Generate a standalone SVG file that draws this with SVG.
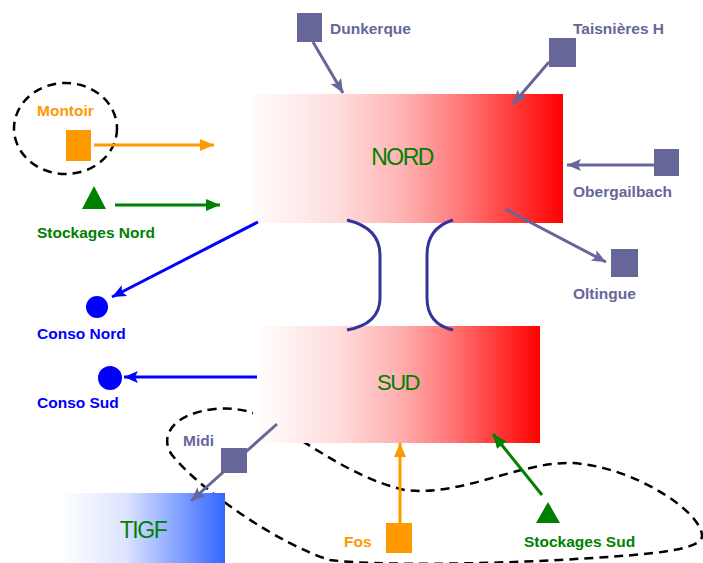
<svg xmlns="http://www.w3.org/2000/svg" width="703" height="563" viewBox="0 0 703 563">
<style>
.lbl{font-family:"Liberation Sans",Arial,sans-serif;font-weight:bold;font-size:15.5px}
.big{font-family:"Liberation Sans",Arial,sans-serif;font-size:23px;fill:#008000;letter-spacing:-1.5px;text-anchor:middle}
.slate{fill:#666699}
.c{fill:none;stroke-width:3}
</style>
<defs>
<linearGradient id="red" x1="0" y1="0" x2="1" y2="0">
<stop offset="0" stop-color="#FFFFFF"/>
<stop offset="0.3" stop-color="#FFDCDC"/>
<stop offset="0.5" stop-color="#FFB2B2"/>
<stop offset="0.7" stop-color="#FF7272"/>
<stop offset="1" stop-color="#FF0000"/>
</linearGradient>
<linearGradient id="blue" x1="0" y1="0" x2="1" y2="0">
<stop offset="0" stop-color="#FFFFFF"/>
<stop offset="0.4" stop-color="#DDE4FF"/>
<stop offset="1" stop-color="#3366FF"/>
</linearGradient>
<marker id="aS" viewBox="0 0 14 12" refX="14" refY="6" markerWidth="15" markerHeight="12" markerUnits="userSpaceOnUse" orient="auto"><path d="M0,0 L14,6 L0,12 L3,6 z" fill="#666699"/></marker>
<marker id="aO" viewBox="0 0 14 12" refX="14" refY="6" markerWidth="15" markerHeight="12" markerUnits="userSpaceOnUse" orient="auto"><path d="M0,0 L14,6 L0,12 z" fill="#FF9900"/></marker>
<marker id="aG" viewBox="0 0 14 12" refX="14" refY="6" markerWidth="15" markerHeight="12" markerUnits="userSpaceOnUse" orient="auto"><path d="M0,0 L14,6 L0,12 z" fill="#008000"/></marker>
<marker id="aB" viewBox="0 0 14 12" refX="14" refY="6" markerWidth="15" markerHeight="12" markerUnits="userSpaceOnUse" orient="auto"><path d="M0,0 L14,6 L0,12 L3,6 z" fill="#0000FF"/></marker>
</defs>

<g id="zone-sud">
<path d="M277,425 C320,452 360,480 405,490 C460,497 520,462 570,463 C630,465 700,510 702,535 C704,552 640,555 560,560 C480,564 380,566 330,560 C280,545 200,490 172,455 C158,435 175,413 215,409 C245,406 265,417 277,425 Z" fill="none" stroke="#000" stroke-width="2.5" stroke-dasharray="9,6"/>
</g>

<g id="nord"><rect x="243" y="94" width="320" height="129" fill="url(#red)"/><text class="big" x="402" y="165">NORD</text></g>
<g id="sud"><rect x="253" y="326" width="287" height="117" fill="url(#red)"/><text class="big" x="398" y="390" style="font-size:22px">SUD</text></g>
<g id="tigf"><rect x="60" y="493" width="165" height="70" fill="url(#blue)"/><text class="big" x="143" y="538">TIGF</text></g>

<g id="montoir">
<ellipse cx="65.5" cy="128.5" rx="51.5" ry="45.5" fill="none" stroke="#000" stroke-width="2.5" stroke-dasharray="9,6"/>
<rect x="66" y="130" width="25" height="31" fill="#FF9900"/>
<text class="lbl" x="37" y="116" fill="#FF9900">Montoir</text>
</g>
<g id="stockages-nord">
<path d="M94,186 L106,209 L82,209 Z" fill="#008000"/>
<text class="lbl" x="37" y="238" fill="#008000">Stockages Nord</text>
</g>
<g id="dunkerque"><rect class="slate" x="297" y="13" width="25" height="29"/><text class="lbl slate" x="330" y="34">Dunkerque</text></g>
<g id="taisnieres"><rect class="slate" x="549" y="38" width="27" height="29"/><text class="lbl slate" x="573" y="34">Taisnières H</text></g>
<g id="obergailbach"><rect class="slate" x="654" y="149" width="25" height="27"/><text class="lbl slate" x="573" y="197">Obergailbach</text></g>
<g id="oltingue"><rect class="slate" x="611" y="249" width="27" height="28"/><text class="lbl slate" x="573" y="299">Oltingue</text></g>
<g id="conso-nord"><circle cx="97" cy="307" r="11" fill="#0000FF"/><text class="lbl" x="37" y="339" fill="#0000FF">Conso Nord</text></g>
<g id="conso-sud"><circle cx="110" cy="378" r="12" fill="#0000FF"/><text class="lbl" x="37" y="408" fill="#0000FF">Conso Sud</text></g>
<g id="midi"><rect class="slate" x="221" y="448" width="26" height="25"/><text class="lbl slate" x="183" y="446">Midi</text></g>
<g id="fos"><rect x="386" y="523" width="26" height="30" fill="#FF9900"/><text class="lbl" x="344" y="547" fill="#FF9900">Fos</text></g>
<g id="stockages-sud">
<path d="M548,502 L560,523 L536,523 Z" fill="#008000"/>
<text class="lbl" x="524" y="547" fill="#008000">Stockages Sud</text>
</g>

<g id="connectors">
<path class="c" d="M94,145 L214,145" stroke="#FF9900" stroke-width="2.5" marker-end="url(#aO)"/>
<path class="c" d="M115,205 L220,205" stroke="#008000" marker-end="url(#aG)"/>
<path class="c" d="M313,42 L343,93" stroke="#666699" marker-end="url(#aS)"/>
<path class="c" d="M549,62 L513,104" stroke="#666699" marker-end="url(#aS)"/>
<path class="c" d="M654,165 L567,165" stroke="#666699" marker-end="url(#aS)"/>
<path class="c" d="M505,209 L606,262" stroke="#666699" marker-end="url(#aS)"/>
<path class="c" d="M258,222 L112,297" stroke="#0000FF" marker-end="url(#aB)"/>
<path class="c" d="M257,377 L124,377" stroke="#0000FF" marker-end="url(#aB)"/>
<path class="c" d="M277,424 L191,501" stroke="#666699" marker-end="url(#aS)"/>
<path class="c" d="M400,523 L400,443" stroke="#FF9900" stroke-width="2.5" marker-end="url(#aO)"/>
<path class="c" d="M542,495 L493,434" stroke="#008000" marker-end="url(#aG)"/>
<path class="c" d="M347,220 Q380,228 380,255 L380,298 Q380,324 347,330" stroke="#333399" stroke-width="2.5"/>
<path class="c" d="M453,220 Q427,228 427,255 L427,298 Q427,324 453,330" stroke="#333399" stroke-width="2.5"/>
</g>
</svg>
